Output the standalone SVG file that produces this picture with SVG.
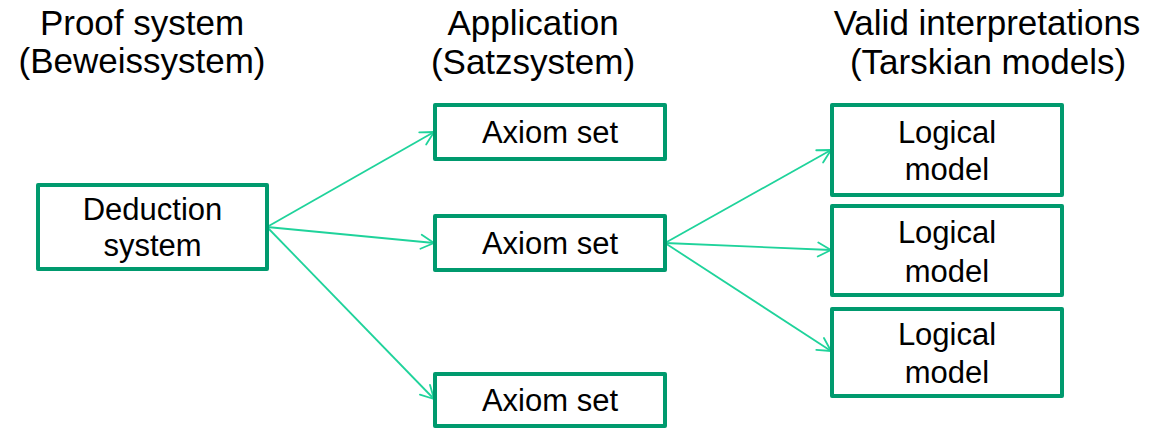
<svg xmlns="http://www.w3.org/2000/svg" width="1155" height="429" viewBox="0 0 1155 429">
  <defs>
    <style>
      .title { font-family: "Liberation Sans", Arial, sans-serif; font-size: 35px; fill: #000; text-anchor: middle; }
      .label { font-family: "Liberation Sans", Arial, sans-serif; font-size: 31px; fill: #000; text-anchor: middle; }
      .box { fill: #fff; stroke: #009A6E; stroke-width: 4; stroke-linejoin: round; }
      .link { fill: none; stroke: #1FD39B; stroke-width: 1.8; marker-end: url(#open-arrow); }
    </style>
    <marker id="open-arrow" markerUnits="userSpaceOnUse" markerWidth="20" markerHeight="20" viewBox="0 0 20 20" refX="17" refY="10" orient="auto">
      <path d="M4,3 L17,10 L4,17" fill="none" stroke="#1FD39B" stroke-width="1.8" stroke-linecap="round" stroke-linejoin="round"/>
    </marker>
  </defs>
  <rect width="1155" height="429" fill="#fff"/>

  <!-- column headings -->
  <g id="headings">
    <text class="title" x="142" y="35">Proof system</text>
    <text class="title" x="142" y="73">(Beweissystem)</text>
    <text class="title" x="533" y="35">Application</text>
    <text class="title" x="533" y="74">(Satzsystem)</text>
    <text class="title" x="987" y="35">Valid interpretations</text>
    <text class="title" x="988" y="74">(Tarskian models)</text>
  </g>

  <!-- connectors -->
  <g id="connectors">
    <line class="link" x1="267" y1="227" x2="434" y2="132"/>
    <line class="link" x1="267" y1="227" x2="434" y2="243"/>
    <line class="link" x1="267" y1="227" x2="434" y2="399"/>
    <line class="link" x1="665" y1="243" x2="831" y2="150"/>
    <line class="link" x1="665" y1="243" x2="831" y2="250"/>
    <line class="link" x1="665" y1="243" x2="831" y2="351"/>
  </g>

  <g id="deduction-system">
    <rect class="box" x="38" y="185" width="229" height="84"/>
    <text class="label" x="152.5" y="220">Deduction</text>
    <text class="label" x="152.5" y="256">system</text>
  </g>

  <g id="axiom-set-1">
    <rect class="box" x="435" y="105" width="230" height="54"/>
    <text class="label" x="550" y="143">Axiom set</text>
  </g>
  <g id="axiom-set-2">
    <rect class="box" x="435" y="216" width="230" height="54"/>
    <text class="label" x="550" y="254">Axiom set</text>
  </g>
  <g id="axiom-set-3">
    <rect class="box" x="435" y="374" width="230" height="52"/>
    <text class="label" x="550" y="411">Axiom set</text>
  </g>

  <g id="logical-model-1">
    <rect class="box" x="832" y="105" width="230" height="90"/>
    <text class="label" x="947" y="143">Logical</text>
    <text class="label" x="947" y="180">model</text>
  </g>
  <g id="logical-model-2">
    <rect class="box" x="832" y="206" width="230" height="89"/>
    <text class="label" x="947" y="243">Logical</text>
    <text class="label" x="947" y="282">model</text>
  </g>
  <g id="logical-model-3">
    <rect class="box" x="832" y="309" width="230" height="87"/>
    <text class="label" x="947" y="345">Logical</text>
    <text class="label" x="947" y="383">model</text>
  </g>
</svg>
